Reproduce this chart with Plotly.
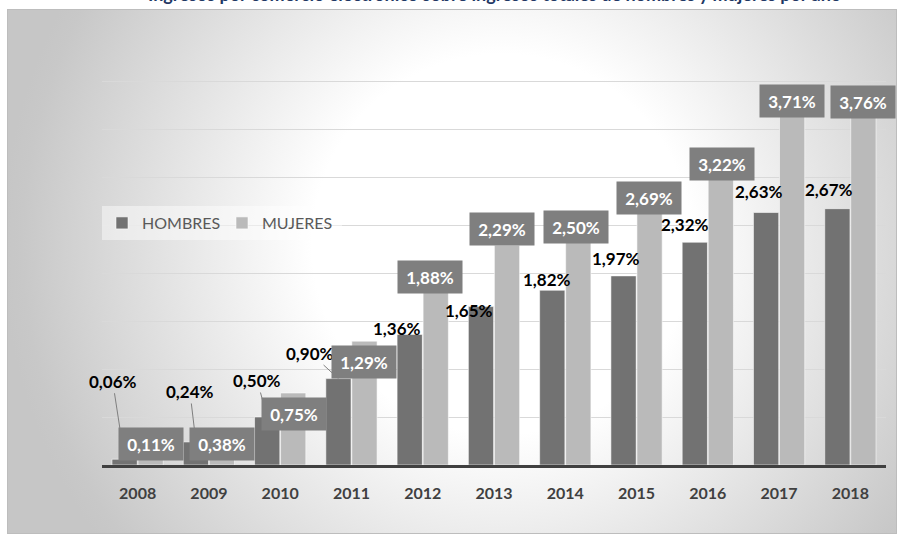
import base64
import plotly.graph_objects as go

# ---------------- data ----------------
years = ["2008", "2009", "2010", "2011", "2012", "2013", "2014", "2015", "2016", "2017", "2018"]
hombres = [0.06, 0.24, 0.50, 0.90, 1.36, 1.65, 1.82, 1.97, 2.32, 2.63, 2.67]
mujeres = [0.11, 0.38, 0.75, 1.29, 1.88, 2.29, 2.50, 2.69, 3.22, 3.71, 3.76]
series_names = ["HOMBRES", "MUJERES"]
title_text = "Ingresos por comercio electrónico sobre ingresos totales de hombres y mujeres por año"

# ---------------- label placement (pixel offsets from bar top) ----------------
h_dx = [-12, -6, -10, -28, -12.5, -12, -5.5, -8, -10, -7.5, -8]
h_dy = [-78, -50.5, -36.5, -25.6, -6, 3.5, -11, -17, -18, -21, -19]
h_leader = [True, True, True, True, False, False, False, False, False, False, False]
m_dx = [0, 0, 0.5, 0, -6, -5.5, -2, -1, 1, 0, 0]
m_dy = [-10, 15.5, 20.5, 21, -7.5, -16, 2, -9, 8, -8, -2]

BAR_OFF = 13
FONT = "Lato"


def fmt(v):
    return f"{v:.2f}".replace(".", ",") + "%"


# ---------------- background gradient panel ----------------
PW, PH = 890, 525
svg = f'''<svg xmlns="http://www.w3.org/2000/svg" width="{PW}" height="{PH}" viewBox="0 0 {PW} {PH}" preserveAspectRatio="none">
<defs><radialGradient id="g" gradientUnits="userSpaceOnUse" cx="495" cy="235" r="500">
<stop offset="0" stop-color="#ffffff"/><stop offset="0.38" stop-color="#ffffff"/>
<stop offset="0.96" stop-color="#c8c8c8"/><stop offset="1" stop-color="#c6c6c6"/></radialGradient></defs>
<rect x="0" y="0" width="{PW}" height="{PH}" fill="url(#g)"/>
<rect x="0.5" y="0.5" width="{PW-1}" height="{PH-1}" fill="none" stroke="#bdbdbd" stroke-width="1"/>
</svg>'''
svg_uri = "data:image/svg+xml;base64," + base64.b64encode(svg.encode()).decode()

W, H = 906, 534
PX_PER_UNIT = 96
L, R, B = 102, 20, 69
Y_TOP = 4 + 2 / PX_PER_UNIT
T = H - B - round(Y_TOP * PX_PER_UNIT)
plot_w = W - L - R
plot_h = H - T - B


def px_to_paper_x(px):
    return (px - L) / plot_w


def px_to_paper_y(py):
    return (H - B - py) / plot_h


fig = go.Figure()
fig.add_trace(go.Bar(
    x=years, y=hombres, name=series_names[0],
    marker=dict(color="#727272", line=dict(color="rgba(255,255,255,0.55)", width=1)),
))
fig.add_trace(go.Bar(
    x=years, y=mujeres, name=series_names[1],
    marker=dict(color="#bababa", line=dict(color="rgba(255,255,255,0.55)", width=1)),
))

annotations = []
for i, yr in enumerate(years):
    annotations.append(dict(
        x=i, y=hombres[i], xref="x", yref="y", xshift=-BAR_OFF,
        text=fmt(hombres[i]), showarrow=True, ax=h_dx[i], ay=h_dy[i],
        axref="pixel", ayref="pixel", arrowhead=0, arrowwidth=1,
        arrowcolor="#7f7f7f" if h_leader[i] else "rgba(0,0,0,0)",
        font=dict(family=FONT, size=17, color="#000000", weight="bold"),
    ))
for i, yr in enumerate(years):
    annotations.append(dict(
        x=i, y=mujeres[i], xref="x", yref="y", xshift=BAR_OFF,
        text=fmt(mujeres[i]), showarrow=True, ax=m_dx[i], ay=m_dy[i],
        axref="pixel", ayref="pixel", arrowhead=0, arrowwidth=1,
        arrowcolor="rgba(0,0,0,0)",
        width=62, height=30, bgcolor="#7f7f7f",
        font=dict(family=FONT, size=17, color="#ffffff", weight="bold"),
    ))
annotations.append(dict(
    x=0.5, y=px_to_paper_y(7), xref="paper", yref="paper", xanchor="center", yanchor="bottom",
    text=title_text, showarrow=False,
    font=dict(family=FONT, size=18, color="#1f3864", weight="bold"),
))

fig.update_layout(
    width=W, height=H,
    margin=dict(l=L, r=R, t=T, b=B, pad=0),
    paper_bgcolor="#ffffff",
    plot_bgcolor="rgba(0,0,0,0)",
    barmode="group", bargap=0.27, bargroupgap=0.03,
    font=dict(family=FONT),
    showlegend=True,
    legend=dict(
        orientation="h", x=0, xanchor="left", y=px_to_paper_y(206), yanchor="top",
        bgcolor="rgba(255,255,255,0.45)", borderwidth=0,
        font=dict(family=FONT, size=16, color="#595959"),
        entrywidth=75, entrywidthmode="pixels", itemwidth=30,
    ),
    xaxis=dict(
        type="category", range=[-0.5, len(years) - 0.5], autorange=False,
        showgrid=False, showline=True, linecolor="#404040", linewidth=3,
        ticks="", ticklabelstandoff=12,
        tickfont=dict(family=FONT, size=16, color="#404040", weight="bold"),
    ),
    yaxis=dict(
        range=[0, Y_TOP], autorange=False, dtick=0.5, showticklabels=False, showgrid=True,
        gridcolor="#d9d9d9", gridwidth=1, zeroline=False, showline=False,
    ),
    images=[dict(
        source=svg_uri, xref="paper", yref="paper",
        x=px_to_paper_x(7), y=px_to_paper_y(9),
        sizex=PW / plot_w, sizey=PH / plot_h,
        xanchor="left", yanchor="top", sizing="stretch", layer="below",
    )],
    annotations=annotations,
)

fig.write_html("out.html", config={"displayModeBar": False},
               post_script="document.body.style.margin='0px';")
